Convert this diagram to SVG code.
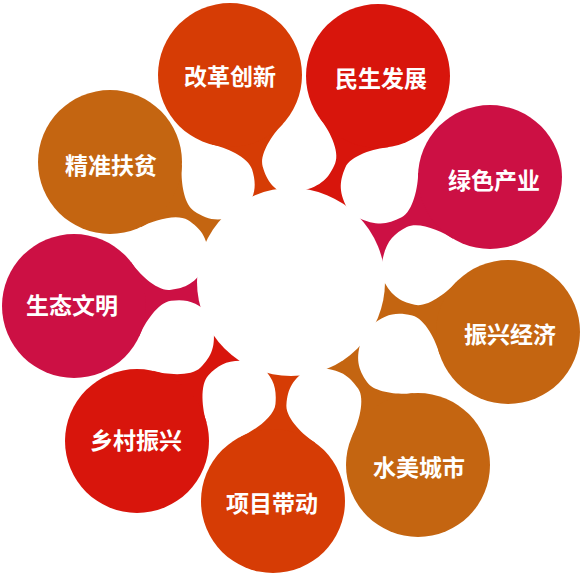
<svg xmlns="http://www.w3.org/2000/svg" xmlns:xlink="http://www.w3.org/1999/xlink" width="581" height="575" viewBox="0 0 581 575">
<defs>
<path id="tail" d="M 61.5,37.4 C 68,25 84,5.5 97,5.5 C 113,5.5 123,9 136,26 L 136,-26 C 123,-9 113,-5.5 97,-5.5 C 84,-5.5 68,-25 61.5,-37.4 L 50,0 Z"/>
</defs>
<style>
.o{fill:#d63c05}.r{fill:#d8150c}.m{fill:#cc1044}.b{fill:#c46511}
text{font-family:"Noto Sans CJK SC","Noto Sans",sans-serif;font-weight:bold;font-size:23px;fill:#fff;text-anchor:middle;dominant-baseline:central}
</style>
<rect width="581" height="575" fill="#fff"/>
<g id="connectors">
<use xlink:href="#tail" class="o" transform="translate(230,75) rotate(73.6)"/>
<use xlink:href="#tail" class="r" transform="translate(378,76) rotate(112.9)"/>
<use xlink:href="#tail" class="m" transform="translate(490,177) rotate(152.2)"/>
<use xlink:href="#tail" class="b" transform="translate(508,332) rotate(193)"/>
<use xlink:href="#tail" class="b" transform="translate(418,465) rotate(235.2)"/>
<use xlink:href="#tail" class="o" transform="translate(273,501) rotate(274.7)"/>
<use xlink:href="#tail" class="r" transform="translate(137,441) rotate(314.1)"/>
<use xlink:href="#tail" class="m" transform="translate(74,306) rotate(353.7)"/>
<use xlink:href="#tail" class="b" transform="translate(110,162) rotate(33.5)"/>
</g>
<circle id="hub" cx="291" cy="282" r="94" fill="#fff"/>
<g id="n1"><circle class="o" cx="230" cy="75" r="72"/><text x="230" y="75">改革创新</text></g>
<g id="n2"><circle class="r" cx="378" cy="76" r="72"/><text x="381" y="77">民生发展</text></g>
<g id="n3"><circle class="m" cx="490" cy="177" r="72"/><text x="494" y="179">绿色产业</text></g>
<g id="n4"><circle class="b" cx="508" cy="332" r="72"/><text x="510" y="333">振兴经济</text></g>
<g id="n5"><circle class="b" cx="418" cy="465" r="72"/><text x="419" y="466">水美城市</text></g>
<g id="n6"><circle class="o" cx="273" cy="501" r="72"/><text x="272" y="502">项目带动</text></g>
<g id="n7"><circle class="r" cx="137" cy="441" r="72"/><text x="136" y="439">乡村振兴</text></g>
<g id="n8"><circle class="m" cx="74" cy="306" r="72"/><text x="72" y="304">生态文明</text></g>
<g id="n9"><circle class="b" cx="110" cy="162" r="72"/><text x="111" y="164">精准扶贫</text></g>
</svg>
